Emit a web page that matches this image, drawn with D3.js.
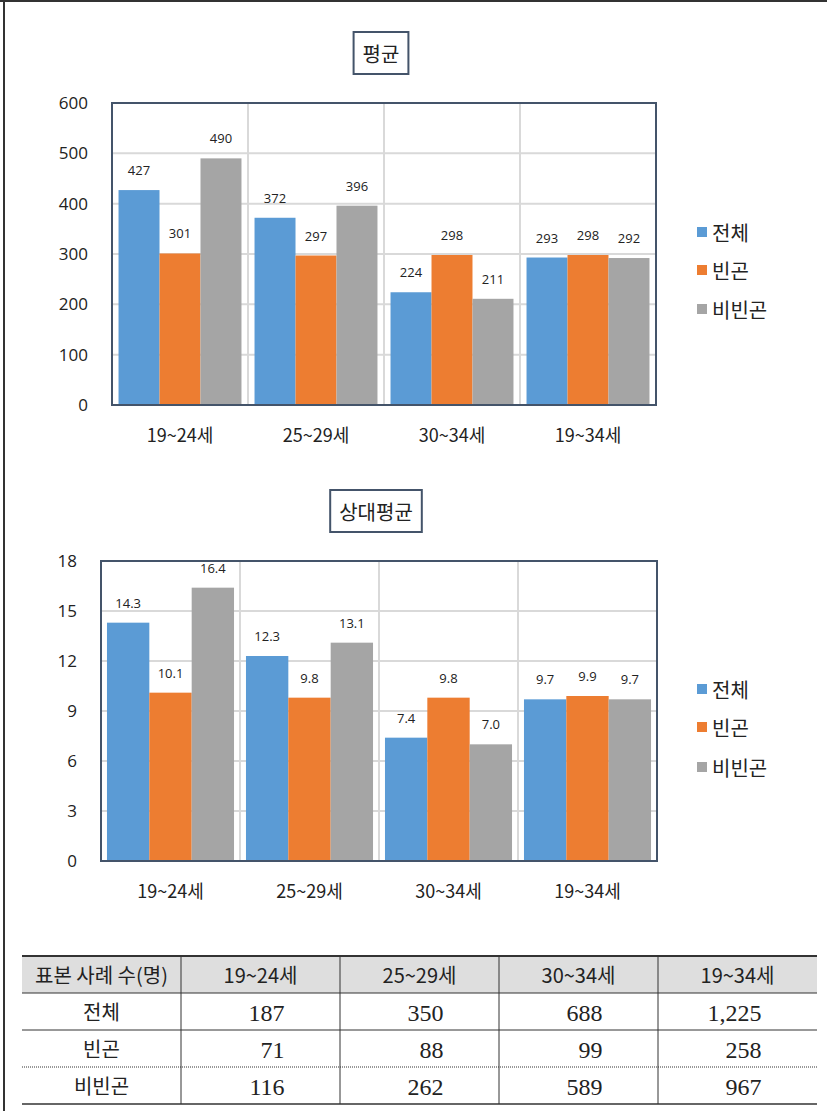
<!DOCTYPE html>
<html>
<head>
<meta charset="utf-8">
<script src="https://cdn.jsdelivr.net/npm/d3@7"></script>
<style>
  html, body { margin: 0; padding: 0; background: #fff; }
  svg { display: block; }
</style>
</head>
<body>
<svg id="page" width="827" height="1111"></svg>
<script>
// Age groups and series
const categories = ["19~24세", "25~29세", "30~34세", "19~34세"];
const seriesNames = ["전체", "빈곤", "비빈곤"];
const seriesColors = ["#5b9bd5", "#ed7d31", "#a5a5a5"];

// 평균
const meanTotal   = [427, 372, 224, 293];
const meanPoor    = [301, 297, 298, 298];
const meanNonPoor = [490, 396, 211, 292];
const meanTicks   = [0, 100, 200, 300, 400, 500, 600];

// 상대평균
const relTotal    = [14.3, 12.3, 7.4, 9.7];
const relPoor     = [10.1, 9.8, 9.8, 9.9];
const relNonPoor  = [16.4, 13.1, 7.0, 9.7];
const relTicks    = [0, 3, 6, 9, 12, 15, 18];

// 표본 사례 수(명)
const sampleHeader  = "표본 사례 수(명)";
const sampleTotal   = [187, 350, 688, 1225];
const samplePoor    = [71, 88, 99, 258];
const sampleNonPoor = [116, 262, 589, 967];

const KR = "'Noto Sans CJK KR', 'Noto Sans', sans-serif";
const NUM = "'Open Sans', 'Noto Sans', sans-serif";
const SERIF = "'Liberation Serif', 'DejaVu Serif', serif";
const frameColor = "#44546a";

const svg = d3.select("#page");

// page frame
svg.append("line").attr("x1", 0).attr("x2", 827).attr("y1", 1).attr("y2", 1)
  .attr("stroke", "#333").attr("stroke-width", 2);
svg.append("line").attr("x1", 4).attr("x2", 4).attr("y1", 0).attr("y2", 1111)
  .attr("stroke", "#333").attr("stroke-width", 2);

function drawChart(opt) {
  const g = svg.append("g");
  const x0 = d3.scaleBand().domain(categories).range([opt.left, opt.right]).padding(0);
  const bw = x0.bandwidth();
  const pad = bw * opt.groupPad;
  const x1 = d3.scaleBand().domain(seriesNames).range([pad, bw - pad]).padding(0);
  const y = d3.scaleLinear().domain([0, opt.max]).range([opt.bottom, opt.top]);

  // gridlines
  g.selectAll("line.hgrid").data(opt.ticks).join("line")
    .attr("class", "hgrid")
    .attr("x1", opt.left).attr("x2", opt.right)
    .attr("y1", d => y(d)).attr("y2", d => y(d))
    .attr("stroke", "#d9d9d9").attr("stroke-width", 2);
  g.selectAll("line.vgrid").data(categories.slice(1)).join("line")
    .attr("class", "vgrid")
    .attr("x1", d => x0(d)).attr("x2", d => x0(d))
    .attr("y1", opt.top).attr("y2", opt.bottom)
    .attr("stroke", "#d9d9d9").attr("stroke-width", 2);

  // bars
  const groups = g.selectAll("g.grp").data(categories).join("g")
    .attr("class", "grp")
    .attr("transform", d => `translate(${x0(d)},0)`);
  groups.each(function(cat, ci) {
    const rows = seriesNames.map((s, si) => ({ s, si, v: opt.series[si][ci] }));
    const gg = d3.select(this);
    gg.selectAll("rect").data(rows).join("rect")
      .attr("x", d => x1(d.s)).attr("width", x1.bandwidth())
      .attr("y", d => y(d.v)).attr("height", d => y(0) - y(d.v))
      .attr("fill", d => seriesColors[d.si]);
    gg.selectAll("text").data(rows).join("text")
      .attr("x", d => x1(d.s) + x1.bandwidth() / 2)
      .attr("y", d => y(d.v) - 15)
      .attr("text-anchor", "middle")
      .attr("font-family", NUM).attr("font-size", 13).attr("fill", "#222")
      .text(d => opt.fmt(d.v));
  });

  // plot border
  g.append("rect")
    .attr("x", opt.left).attr("y", opt.top)
    .attr("width", opt.right - opt.left).attr("height", opt.bottom - opt.top)
    .attr("fill", "none").attr("stroke", frameColor).attr("stroke-width", 2);

  // y axis
  const yAxis = d3.axisLeft(y).tickValues(opt.ticks).tickSize(0).tickPadding(0);
  const ya = g.append("g").attr("transform", `translate(${opt.left - opt.labelGap},0)`).call(yAxis);
  ya.select(".domain").remove();
  ya.selectAll("text").attr("font-family", NUM).attr("font-size", 17).attr("fill", "#222");

  // x axis labels
  const xAxis = d3.axisBottom(x0).tickSize(0).tickPadding(0);
  const xa = g.append("g").attr("transform", `translate(0,${opt.bottom + 24})`).call(xAxis);
  xa.select(".domain").remove();
  xa.selectAll("text").attr("font-family", KR).attr("font-size", 18).attr("fill", "#222");

  // title box
  const tbox = g.append("rect")
    .attr("fill", "#fff").attr("stroke", frameColor).attr("stroke-width", 2);
  const tt = g.append("text")
    .attr("x", opt.titleX).attr("y", opt.titleY)
    .attr("text-anchor", "middle").attr("dominant-baseline", "central")
    .attr("font-family", KR).attr("font-size", 20).attr("fill", "#222")
    .text(opt.title);
  const bb = tt.node().getBBox();
  tbox.attr("x", opt.titleX - bb.width / 2 - 9).attr("y", opt.titleY - 21)
    .attr("width", bb.width + 18).attr("height", 42);

  // legend
  const lg = g.selectAll("g.leg").data(seriesNames).join("g")
    .attr("class", "leg")
    .attr("transform", (d, i) => `translate(697,${opt.legendY[i]})`);
  lg.append("rect").attr("x", 0).attr("y", -5).attr("width", 10).attr("height", 10)
    .attr("fill", (d, i) => seriesColors[i]);
  lg.append("text").attr("x", 15).attr("y", 0).attr("dominant-baseline", "central")
    .attr("font-family", KR).attr("font-size", 20).attr("fill", "#222")
    .text(d => d);
}

drawChart({
  left: 112, right: 656, top: 103, bottom: 405, max: 600, ticks: meanTicks,
  groupPad: 0.048, labelGap: 24,
  series: [meanTotal, meanPoor, meanNonPoor],
  fmt: d3.format("d"),
  title: "평균", titleX: 381, titleY: 53,
  legendY: [232, 270, 309]
});

drawChart({
  left: 101, right: 657, top: 561, bottom: 861, max: 18, ticks: relTicks,
  groupPad: 0.043, labelGap: 24,
  series: [relTotal, relPoor, relNonPoor],
  fmt: d3.format(".1f"),
  title: "상대평균", titleX: 376, titleY: 511,
  legendY: [689, 727, 767]
});

// sample size table
(function drawTable() {
  const g = svg.append("g");
  const colX = d3.scaleBand().domain(["head"].concat(categories)).range([22, 817]).padding(0);
  const cw = colX.bandwidth();
  const rowsY = [956, 993, 1030, 1067, 1104];
  const bodyRows = [
    { name: seriesNames[0], vals: sampleTotal },
    { name: seriesNames[1], vals: samplePoor },
    { name: seriesNames[2], vals: sampleNonPoor }
  ];

  g.append("rect").attr("x", 22).attr("y", rowsY[0]).attr("width", 795)
    .attr("height", rowsY[1] - rowsY[0]).attr("fill", "#dedede");

  // horizontal rules
  g.append("line").attr("x1", 22).attr("x2", 817).attr("y1", rowsY[0]).attr("y2", rowsY[0])
    .attr("stroke", "#333").attr("stroke-width", 2);
  g.append("line").attr("x1", 22).attr("x2", 817).attr("y1", rowsY[1]).attr("y2", rowsY[1])
    .attr("stroke", "#333").attr("stroke-width", 1);
  g.append("line").attr("x1", 22).attr("x2", 817).attr("y1", rowsY[2]).attr("y2", rowsY[2])
    .attr("stroke", "#333").attr("stroke-width", 1);
  g.append("line").attr("x1", 22).attr("x2", 817).attr("y1", rowsY[3]).attr("y2", rowsY[3])
    .attr("stroke", "#333").attr("stroke-width", 1).attr("stroke-dasharray", "1,1");
  g.append("line").attr("x1", 22).attr("x2", 817).attr("y1", rowsY[4]).attr("y2", rowsY[4])
    .attr("stroke", "#333").attr("stroke-width", 1.5);

  // vertical rules
  g.selectAll("line.vcol").data(categories).join("line")
    .attr("class", "vcol")
    .attr("x1", d => colX(d)).attr("x2", d => colX(d))
    .attr("y1", rowsY[0]).attr("y2", rowsY[4])
    .attr("stroke", "#333").attr("stroke-width", 1);

  // header
  g.append("text").attr("x", colX("head") + cw / 2).attr("y", (rowsY[0] + rowsY[1]) / 2)
    .attr("text-anchor", "middle").attr("dominant-baseline", "central")
    .attr("font-family", KR).attr("font-size", 20).attr("fill", "#222")
    .text(sampleHeader);
  g.selectAll("text.hcat").data(categories).join("text")
    .attr("class", "hcat")
    .attr("x", d => colX(d) + cw / 2).attr("y", (rowsY[0] + rowsY[1]) / 2)
    .attr("text-anchor", "middle").attr("dominant-baseline", "central")
    .attr("font-family", KR).attr("font-size", 20).attr("fill", "#222")
    .text(d => d);

  // body
  bodyRows.forEach((r, ri) => {
    const cy = (rowsY[ri + 1] + rowsY[ri + 2]) / 2;
    g.append("text").attr("x", colX("head") + cw / 2).attr("y", cy)
      .attr("text-anchor", "middle").attr("dominant-baseline", "central")
      .attr("font-family", KR).attr("font-size", 20).attr("fill", "#222")
      .text(r.name);
    g.selectAll(null).data(categories).join("text")
      .attr("x", d => colX(d) + cw / 2 + 24).attr("y", cy + 1)
      .attr("text-anchor", "end").attr("dominant-baseline", "central")
      .attr("font-family", SERIF).attr("font-size", 24).attr("fill", "#222")
      .text((d, i) => d3.format(",")(r.vals[i]));
  });
})();
</script>
</body>
</html>
